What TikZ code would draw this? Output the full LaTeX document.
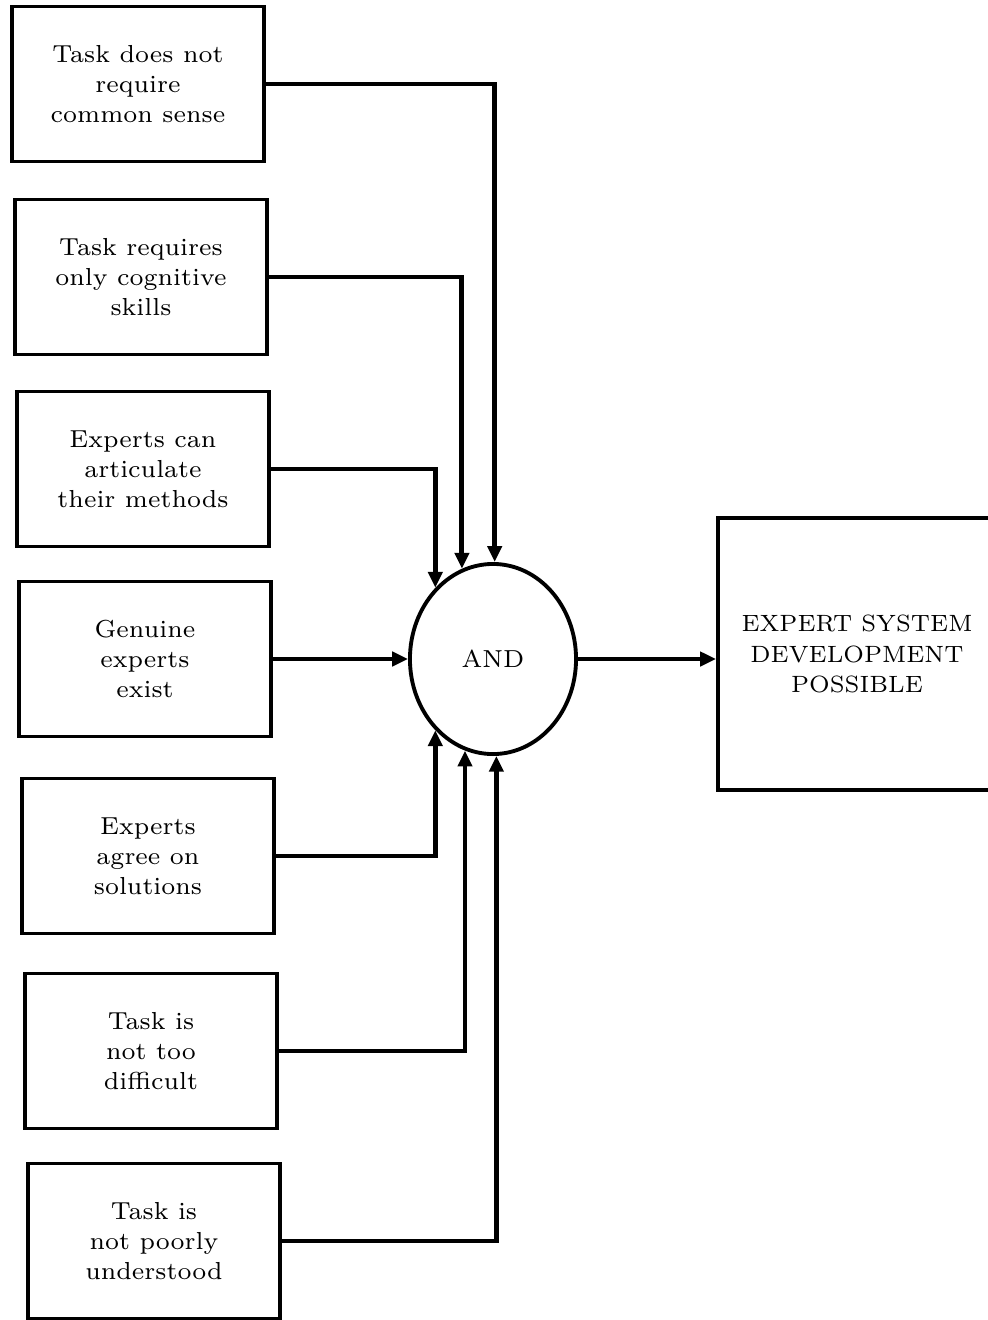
\documentclass[tikz,border=0pt]{standalone}
\usepackage{tikz}
\usetikzlibrary{shapes.geometric,arrows.meta,positioning}

\begin{document}
\begin{tikzpicture}[
  x=0.01cm, y=-0.01cm,
  cond/.style={rectangle, draw, line width=1.1pt,
    minimum width=2.52cm, minimum height=1.55cm, inner sep=0pt,
    align=center, font=\fontsize{7}{8.6}\selectfont},
  gate/.style={ellipse, draw, line width=1.1pt,
    minimum width=1.66cm, minimum height=1.9cm, inner sep=0pt,
    font=\fontsize{7}{8.6}\selectfont},
  arr/.style={-{Triangle[length=4.5pt,width=4pt]}, line width=1.4pt}
]
\clip (0,0) rectangle (988,1320);
% conditions on the left
\node[cond] (T1) at (138,84)   {Task does not\\require\\common sense};
\node[cond] (T2) at (141,277)  {Task requires\\only cognitive\\skills};
\node[cond] (T3) at (143,469)  {Experts can\\articulate\\their methods};
\node[cond] (T4) at (145,659)  {Genuine\\experts\\exist};
\node[cond] (T5) at (148,856)  {Experts\\agree on\\solutions};
\node[cond] (T6) at (151,1051) {Task is\\not too\\difficult};
\node[cond] (T7) at (154,1241) {Task is\\not poorly\\understood};
% gate and result
\node[gate] (AND) at (493,659) {AND};
\node[cond, minimum width=2.78cm, minimum height=2.72cm,
  font=\fontsize{6.7}{8.6}\selectfont] (R) at (857,654)
  {EXPERT SYSTEM\\DEVELOPMENT\\POSSIBLE};
\draw[arr] (T1.east) -| (AND.89);
\draw[arr] (T2.east) -| (AND.109);
\draw[arr] (T3.east) -| (AND.129);
\draw[arr] (T4.east) -- (AND.west);
\draw[arr] (T5.east) -| (AND.231);
\draw[arr] (T6.east) -| (AND.253);
\draw[arr] (T7.east) -| (AND.272);
\draw[arr] (AND.east) -- (AND.east -| R.west);
\end{tikzpicture}
\end{document}
